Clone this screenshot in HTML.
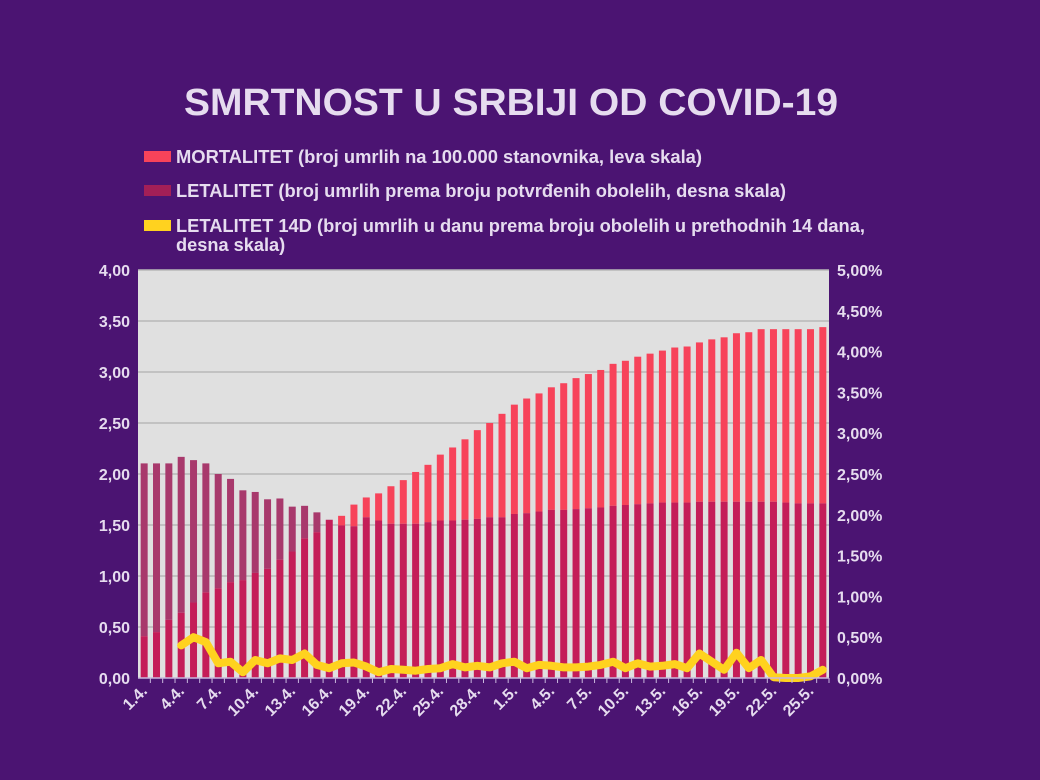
<!DOCTYPE html>
<html><head><meta charset="utf-8"><style>
html,body{margin:0;padding:0;background:#4b1472;}
svg{display:block;font-family:"Liberation Sans",sans-serif;}
</style></head><body>
<svg id="c" width="1040" height="780" viewBox="0 0 1040 780">
<rect width="1040" height="780" fill="#4b1472"/>
<text x="511" y="115" text-anchor="middle" font-size="38" font-weight="bold" fill="#e6dcef" textLength="654" lengthAdjust="spacingAndGlyphs">SMRTNOST U SRBIJI OD COVID-19</text>
<g font-size="18.2" font-weight="bold" fill="#e6dcef">
<g><rect x="144" y="151" width="27" height="11" fill="#f7435a"/><text x="176" y="163" textLength="526" lengthAdjust="spacingAndGlyphs">MORTALITET (broj umrlih na 100.000 stanovnika, leva skala)</text></g>
<g><rect x="144" y="185" width="27" height="11" fill="#a31f57"/><text x="176" y="197" textLength="610" lengthAdjust="spacingAndGlyphs">LETALITET (broj umrlih prema broju potvrđenih obolelih, desna skala)</text></g>
<g><rect x="144" y="220" width="27" height="11" fill="#ffd21f"/><text x="176" y="232" textLength="689" lengthAdjust="spacingAndGlyphs">LETALITET 14D (broj umrlih u danu prema broju obolelih u prethodnih 14 dana,</text><text x="176" y="251">desna skala)</text></g>
</g>
<rect x="138" y="270" width="691" height="408" fill="#e0e0e0"/>
<g id="grid"></g><g id="bars"></g><g id="line"></g><g id="axes"></g>
</svg>
<script>
const categories=["1.4.","2.4.","3.4.","4.4.","5.4.","6.4.","7.4.","8.4.","9.4.","10.4.","11.4.","12.4.","13.4.","14.4.","15.4.","16.4.","17.4.","18.4.","19.4.","20.4.","21.4.","22.4.","23.4.","24.4.","25.4.","26.4.","27.4.","28.4.","29.4.","30.4.","1.5.","2.5.","3.5.","4.5.","5.5.","6.5.","7.5.","8.5.","9.5.","10.5.","11.5.","12.5.","13.5.","14.5.","15.5.","16.5.","17.5.","18.5.","19.5.","20.5.","21.5.","22.5.","23.5.","24.5.","25.5.","26.5."];
const mortalitet=[0.41,0.45,0.57,0.64,0.74,0.84,0.88,0.94,0.96,1.03,1.07,1.16,1.24,1.37,1.43,1.55,1.59,1.70,1.77,1.81,1.88,1.94,2.02,2.09,2.19,2.26,2.34,2.43,2.50,2.59,2.68,2.74,2.79,2.85,2.89,2.94,2.98,3.02,3.08,3.11,3.15,3.18,3.21,3.24,3.25,3.29,3.32,3.34,3.38,3.39,3.42,3.42,3.42,3.42,3.42,3.44];
const letalitet=[2.63,2.63,2.63,2.71,2.67,2.63,2.50,2.44,2.30,2.28,2.19,2.20,2.10,2.11,2.03,1.94,1.87,1.86,1.97,1.93,1.89,1.89,1.89,1.91,1.93,1.93,1.94,1.95,1.97,1.97,2.01,2.02,2.04,2.06,2.06,2.07,2.08,2.09,2.11,2.12,2.13,2.14,2.15,2.15,2.15,2.16,2.16,2.16,2.16,2.16,2.16,2.16,2.15,2.14,2.14,2.14];
const letalitet14d=[null,null,null,0.40,0.50,0.44,0.18,0.20,0.07,0.22,0.18,0.24,0.22,0.30,0.16,0.12,0.18,0.19,0.14,0.07,0.11,0.10,0.09,0.11,0.12,0.17,0.13,0.15,0.13,0.18,0.20,0.12,0.16,0.15,0.13,0.13,0.14,0.16,0.20,0.12,0.18,0.14,0.15,0.17,0.12,0.30,0.20,0.10,0.31,0.12,0.22,0.01,0.00,0.00,0.02,0.10];
const leftTicks=["0,00","0,50","1,00","1,50","2,00","2,50","3,00","3,50","4,00"];
const rightTicks=["0,00%","0,50%","1,00%","1,50%","2,00%","2,50%","3,00%","3,50%","4,00%","4,50%","5,00%"];
const NS="http://www.w3.org/2000/svg";
const X0=138,X1=829,Y0=678,Y1=270;
const step=(X1-X0)/categories.length;
const xc=i=>X0+step*(i+0.5);
const yL=v=>Y0-(v/4)*(Y0-Y1);
const yR=v=>Y0-(v/5)*(Y0-Y1);
function mk(t,a,p){const e=document.createElementNS(NS,t);for(const k in a)e.setAttribute(k,a[k]);p.appendChild(e);return e;}
const grid=document.getElementById('grid'),bars=document.getElementById('bars'),line=document.getElementById('line'),axes=document.getElementById('axes');
leftTicks.forEach((t,i)=>{const y=yL(i*0.5);
 if(i>0){const g=mk('line',{x1:X0,x2:X1,y1:y,y2:y,stroke:'#b8b8b8','stroke-width':1.5},grid);
 
 }
 const tx=mk('text',{x:X0-8,y:y+6,'text-anchor':'end','font-size':16,'font-weight':'bold',fill:'#e6dcef'},axes);tx.textContent=t;
 
 });
rightTicks.forEach((t,i)=>{const y=yR(i*0.5);
 const tx=mk('text',{x:X1+8,y:y+6,'font-size':16,'font-weight':'bold',fill:'#e6dcef'},axes);tx.textContent=t;
 
 });
const bw=7;
categories.forEach((c,i)=>{const x=xc(i)-bw/2;
 const ym=yL(mortalitet[i]),yl=yR(letalitet[i]);const low=Math.max(ym,yl);
 const g=mk('g',{},bars);
 
 
 if(ym<yl)mk('rect',{x:x,y:ym,width:bw,height:yl-ym,fill:'#f7435a'},g);
 else mk('rect',{x:x,y:yl,width:bw,height:ym-yl,fill:'#a8396c'},g);
 mk('rect',{x:x,y:low,width:bw,height:Y0-low,fill:'#c41d58'},g);
 const tk=mk('line',{x1:xc(i)+step/2,x2:xc(i)+step/2,y1:Y0,y2:Y0+5,stroke:'#c9b8dd','stroke-width':1},axes);
 
 
 if(i%3===0){const tx=mk('text',{x:xc(i)+4,y:Y0+14,'text-anchor':'end','font-size':16,'font-weight':'bold',fill:'#e6dcef',transform:`rotate(-45 ${xc(i)+4} ${Y0+14})`},axes);tx.textContent=c;
 
 }
});
const ax=mk('line',{x1:X0,x2:X1,y1:Y0,y2:Y0,stroke:'#c9b8dd','stroke-width':1.5},axes);


let d='';letalitet14d.forEach((v,i)=>{if(v===null)return;d+=(d?'L':'M')+xc(i).toFixed(1)+','+yR(v).toFixed(1);});
const p=mk('path',{d:d,fill:'none',stroke:'#ffd21f','stroke-width':8,'stroke-linejoin':'round','stroke-linecap':'round'},line);


</script>
</body></html>
